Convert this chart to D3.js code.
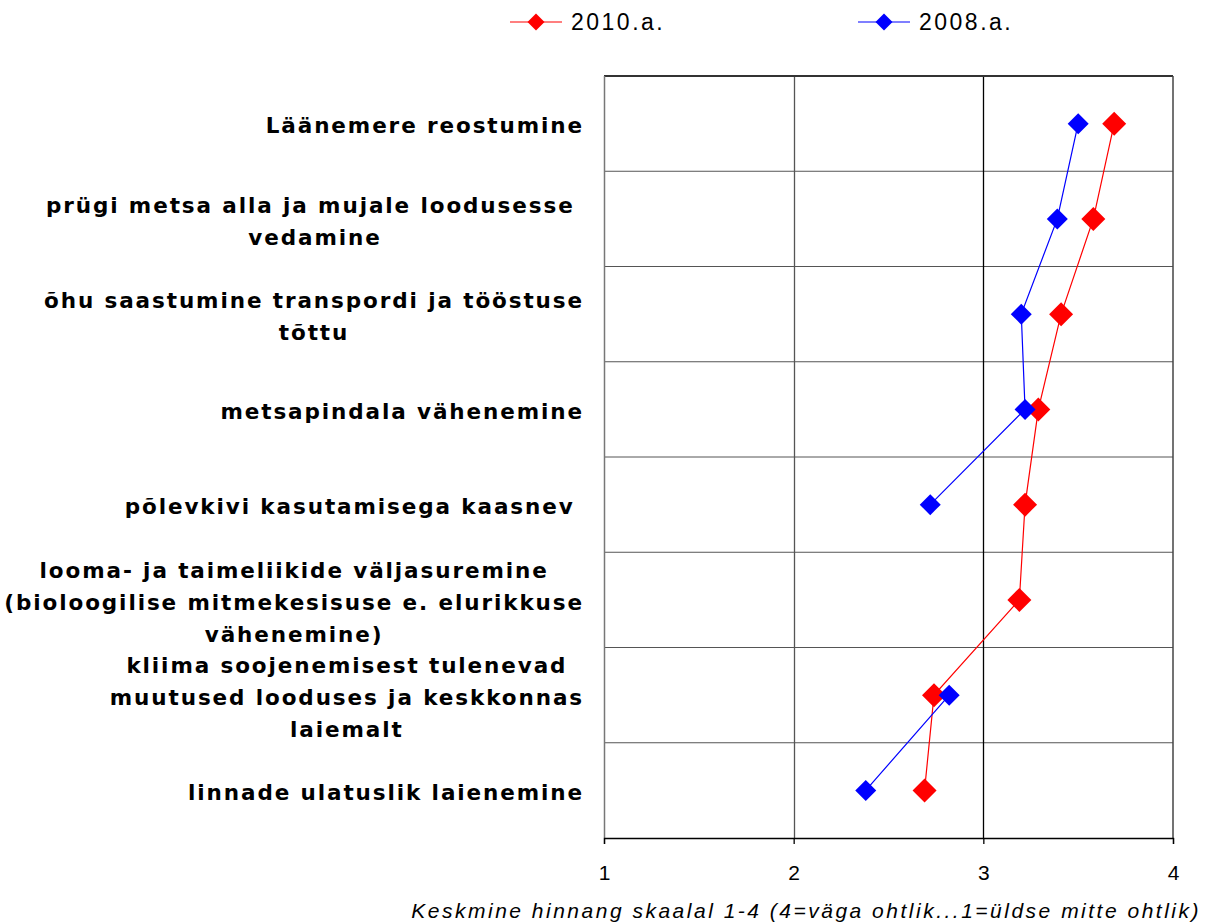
<!DOCTYPE html>
<html>
<head>
<meta charset="utf-8">
<script src="https://cdn.jsdelivr.net/npm/d3@7"></script>
<style>
  body { margin: 0; background: #fff; }
  svg { display: block; }
  .cat { font-family: "DejaVu Sans", sans-serif; font-weight: bold; font-size: 21.5px; letter-spacing: 1.9px; fill: #000; white-space: pre; }
  .tick-lbl { font-family: "Liberation Sans", Arial, sans-serif; font-size: 21px; fill: #000; }
  .legend-txt { font-family: "Liberation Sans", Arial, sans-serif; font-size: 23px; letter-spacing: 2.5px; fill: #000; }
  .x-title { font-family: "Liberation Sans", Arial, sans-serif; font-style: italic; font-size: 21px; letter-spacing: 2.5px; fill: #000; }
</style>
</head>
<body>
<svg id="chart"></svg>
<script>
const width = 1210;
const height = 924;

// categories, top to bottom (lines of each label)
const categories = [
  ["Läänemere reostumine"],
  ["prügi metsa alla ja mujale loodusesse ", "vedamine"],
  ["õhu saastumine transpordi ja tööstuse", "tõttu"],
  ["metsapindala vähenemine"],
  ["põlevkivi kasutamisega kaasnev "],
  ["looma- ja taimeliikide väljasuremine", "(bioloogilise mitmekesisuse e. elurikkuse", "vähenemine)"],
  ["kliima soojenemisest tulenevad", "muutused looduses ja keskkonnas", "laiemalt"],
  ["linnade ulatuslik laienemine"]
];

const values2010 = [3.69, 3.58, 3.41, 3.29, 3.22, 3.19, 2.74, 2.69];
const values2008 = [3.50, 3.39, 3.20, 3.22, 2.72, null, 2.82, 2.38];

const xTicks = [1, 2, 3, 4];
const xTitle = "Keskmine hinnang skaalal 1-4 (4=väga ohtlik...1=üldse mitte ohtlik)";

const series = [
  { name: "2010.a.", values: values2010, color: "#ff0000", r: 12 },
  { name: "2008.a.", values: values2008, color: "#0000ff", r: 10.5 }
];

const margin = { top: 76, right: 37, bottom: 86, left: 604 };
const plotW = width - margin.left - margin.right;
const plotH = height - margin.top - margin.bottom;

const svg = d3.select("#chart").attr("width", width).attr("height", height);
const g = svg.append("g").attr("transform", `translate(${margin.left},${margin.top})`);

const x = d3.scaleLinear().domain([1, 4]).range([0, plotW]);
const y = d3.scaleBand().domain(d3.range(categories.length)).range([0, plotH]).padding(0);

// horizontal separators
g.selectAll("line.hsep")
  .data(d3.range(1, categories.length))
  .enter()
  .append("line")
  .attr("class", "hsep")
  .attr("x1", 0)
  .attr("x2", plotW)
  .attr("y1", (d) => y(d))
  .attr("y2", (d) => y(d))
  .attr("stroke", "#555")
  .attr("stroke-width", 1);

// vertical gridlines
g.selectAll("line.vgrid")
  .data(xTicks.slice(1, -1))
  .enter()
  .append("line")
  .attr("class", "vgrid")
  .attr("x1", (d) => Math.round(x(d)) + 0.5)
  .attr("x2", (d) => Math.round(x(d)) + 0.5)
  .attr("y1", 0)
  .attr("y2", plotH)
  .attr("stroke", (d, i) => (i === 0 ? "#555" : "#000"))
  .attr("stroke-width", 1.3);

// frame
g.append("line").attr("x1", 0).attr("x2", plotW).attr("y1", 0).attr("y2", 0)
  .attr("stroke", "#333").attr("stroke-width", 2);
g.append("line").attr("x1", 0.5).attr("x2", 0.5).attr("y1", 0).attr("y2", plotH)
  .attr("stroke", "#777").attr("stroke-width", 1.5);
g.append("line").attr("x1", plotW).attr("x2", plotW).attr("y1", 0).attr("y2", plotH)
  .attr("stroke", "#444").attr("stroke-width", 1.5);

// x axis
const xAxis = g.append("g")
  .attr("transform", `translate(0,${plotH})`)
  .call(d3.axisBottom(x).tickValues(xTicks).tickSize(6).tickFormat(d3.format("d")));
xAxis.select(".domain").attr("stroke", "#000").attr("stroke-width", 1.3);
xAxis.selectAll(".tick line").attr("stroke", "#000").attr("stroke-width", 1.3);
xAxis.selectAll(".tick text")
  .attr("class", "tick-lbl")
  .attr("font-family", null)
  .attr("font-size", null)
  .attr("y", 27)
  .attr("dy", "0.71em");

svg.append("text")
  .attr("class", "x-title")
  .attr("x", 1201)
  .attr("y", 918)
  .attr("text-anchor", "end")
  .text(xTitle);

// category labels: block centred, right edge at 584
const lineH = 32;
const labelRight = 584;
categories.forEach((lines, i) => {
  const cy = margin.top + y(i) + y.bandwidth() / 2 + 2;
  const t = svg.append("text").attr("class", "cat");
  const spans = lines.map((ln, j) =>
    t.append("tspan")
      .attr("y", cy + (j - (lines.length - 1) / 2) * lineH)
      .attr("dy", "0.36em")
      .text(ln)
  );
  const widths = spans.map((s) => s.node().getComputedTextLength());
  const maxW = d3.max(widths);
  const cx = labelRight - maxW / 2;
  spans.forEach((s) => s.attr("x", cx).attr("text-anchor", "middle"));
});

// series lines and markers
series.forEach((s) => {
  const line = d3.line()
    .defined((d) => d != null)
    .x((d) => x(d))
    .y((d, i) => y(i) + y.bandwidth() / 2);

  g.append("path")
    .datum(s.values)
    .attr("fill", "none")
    .attr("stroke", s.color)
    .attr("stroke-width", 1.2)
    .attr("d", line);
});

series.forEach((s) => {
  g.selectAll(null)
    .data(s.values.map((v, i) => ({ v, i })).filter((d) => d.v != null))
    .enter()
    .append("path")
    .attr("d", `M0,${-s.r}L${s.r},0L0,${s.r}L${-s.r},0Z`)
    .attr("transform", (d) => `translate(${x(d.v)},${y(d.i) + y.bandwidth() / 2})`)
    .attr("fill", s.color);
});

// legend
const legendItems = [
  { s: series[0], x: 510 },
  { s: series[1], x: 858 }
];
legendItems.forEach(({ s, x: lx }) => {
  const lg = svg.append("g").attr("transform", `translate(${lx},22)`);
  lg.append("line").attr("x1", 0).attr("x2", 52).attr("y1", 0).attr("y2", 0)
    .attr("stroke", s.color).attr("stroke-width", 1.2);
  const r = 8.5;
  lg.append("path").attr("d", `M26,${-r}L${26 + r},0L26,${r}L${26 - r},0Z`).attr("fill", s.color);
  lg.append("text").attr("class", "legend-txt").attr("x", 61).attr("dy", "0.36em").text(s.name);
});
</script>
</body>
</html>
